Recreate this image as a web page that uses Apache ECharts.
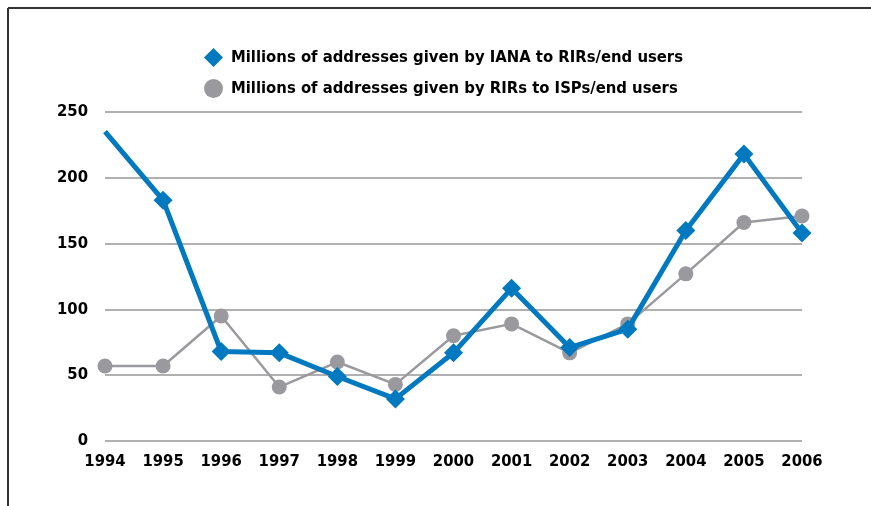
<!DOCTYPE html>
<html>
<head>
<meta charset="utf-8">
<script src="https://cdn.jsdelivr.net/npm/echarts@6/dist/echarts.min.js"></script>
<style>
html,body{margin:0;padding:0;background:#fff;}
#chart{width:871px;height:506px;}
</style>
</head>
<body>
<div id="chart"></div>
<script>
var years = ['1994','1995','1996','1997','1998','1999','2000','2001','2002','2003','2004','2005','2006'];
var ianaValues = [235, 183, 68, 67, 49, 32, 67, 116, 71, 85, 160, 218, 158];
var rirValues = [57, 57, 95, 41, 60, 43, 80, 89, 67, 89, 127, 166, 171];
var yTicks = [0, 50, 100, 150, 200, 250];
var seriesNames = ['Millions of addresses given by IANA to RIRs/end users', 'Millions of addresses given by RIRs to ISPs/end users'];

var FONT = '"Liberation Sans Narrow", "DejaVu Sans Condensed", sans-serif';
var BLUE = '#0079c1';
var GRAY = '#9a9a9e';

var chart = echarts.init(document.getElementById('chart'));
var ianaData = ianaValues.map(function (v, i) {
  return i === 0 ? { value: v, symbol: 'none' } : v;
});
chart.setOption({
  animation: false,
  backgroundColor: '#fff',
  graphic: [
    { type: 'line', shape: { x1: 8, y1: 8, x2: 871, y2: 8 }, style: { stroke: '#333', lineWidth: 2 } },
    { type: 'line', shape: { x1: 8, y1: 8, x2: 8, y2: 506 }, style: { stroke: '#333', lineWidth: 2 } }
  ],
  legend: {
    orient: 'vertical',
    left: 199,
    top: 43,
    itemWidth: 19,
    itemHeight: 19,
    itemGap: 12,
    textStyle: { fontFamily: FONT, fontWeight: 'bold', fontSize: 16.5, color: '#000', padding: [0, 0, 0, 3] },
    data: [
      { name: seriesNames[0], icon: 'diamond' },
      { name: seriesNames[1], icon: 'circle' }
    ]
  },
  grid: { left: 105, right: 69, top: 112, bottom: 65, containLabel: false },
  xAxis: {
    type: 'category',
    data: years,
    boundaryGap: false,
    axisLine: { show: false },
    axisTick: { show: false },
    axisLabel: { interval: 0, margin: 12, fontFamily: FONT, fontWeight: 'bold', fontSize: 16.5, color: '#000' }
  },
  yAxis: {
    type: 'value',
    min: yTicks[0],
    max: yTicks[yTicks.length - 1],
    interval: 50,
    axisLine: { show: false },
    axisTick: { show: false },
    splitLine: { lineStyle: { color: '#b0b0b0', width: 2 } },
    axisLabel: { margin: 17, fontFamily: FONT, fontWeight: 'bold', fontSize: 16.5, color: '#000', verticalAlign: 'middle', padding: [0, 0, 10, 0] }
  },
  series: [
    {
      name: seriesNames[1],
      type: 'line',
      data: rirValues,
      symbol: 'circle',
      symbolSize: 15,
      z: 2,
      itemStyle: { color: GRAY },
      lineStyle: { color: GRAY, width: 2.5 }
    },
    {
      name: seriesNames[0],
      type: 'line',
      data: ianaData,
      symbol: 'diamond',
      symbolSize: 19,
      z: 3,
      itemStyle: { color: BLUE },
      lineStyle: { color: BLUE, width: 5 }
    }
  ]
});
</script>
</body>
</html>
